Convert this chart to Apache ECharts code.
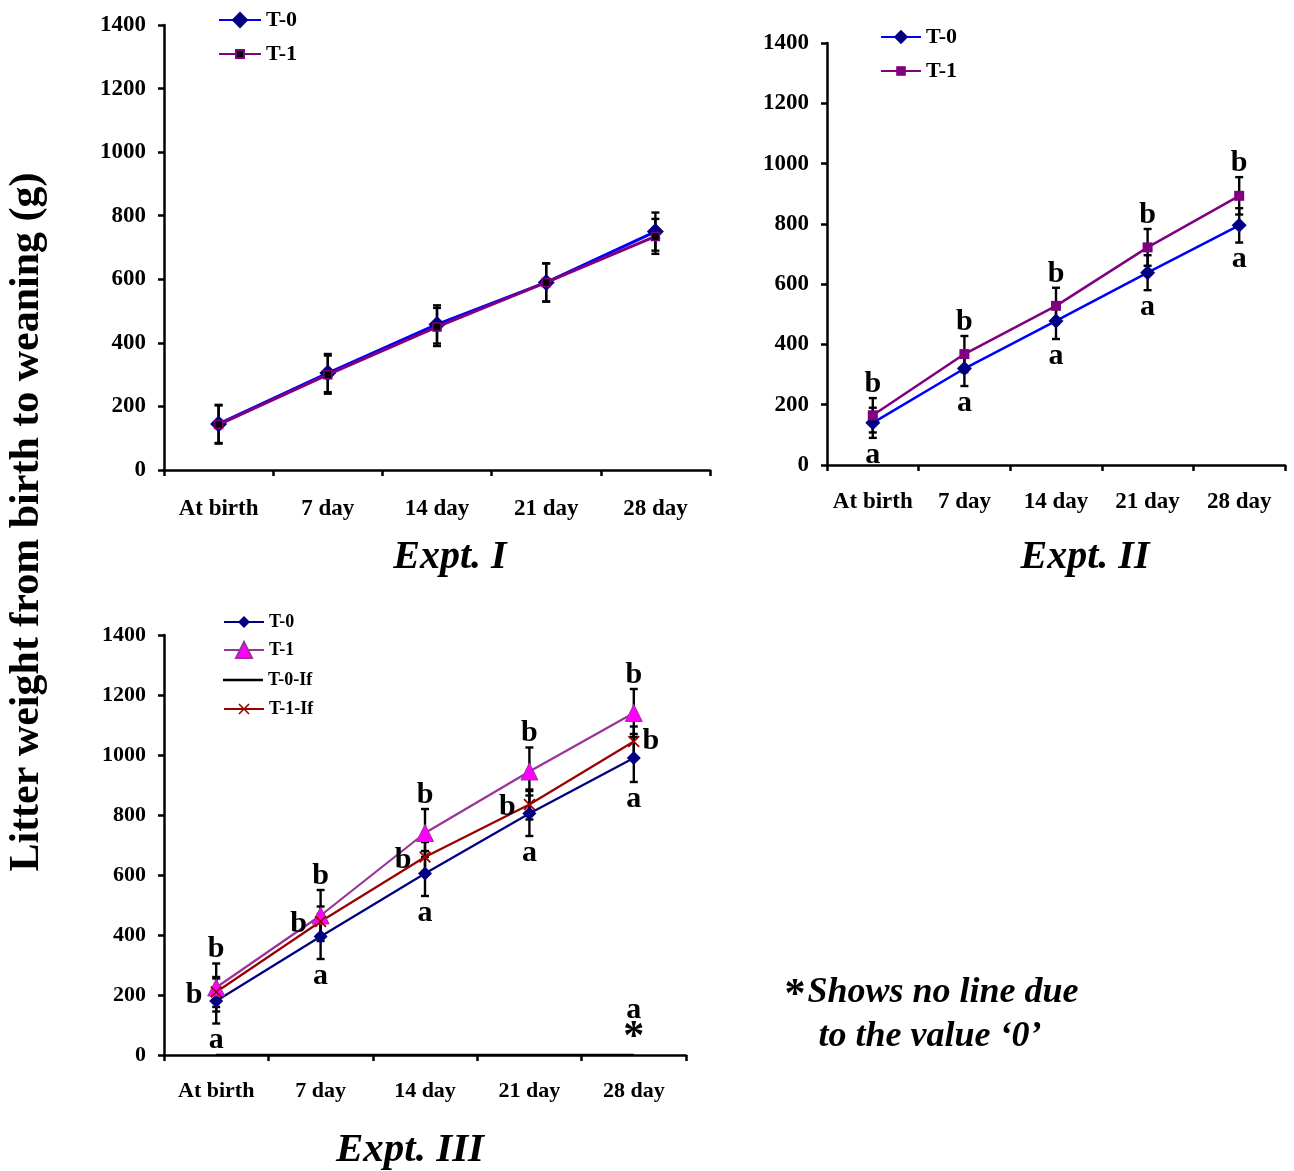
<!DOCTYPE html>
<html>
<head>
<meta charset="utf-8">
<title>Litter weight</title>
<script src="https://cdn.jsdelivr.net/npm/echarts@6/dist/echarts.min.js"></script>
<style>
  html, body { margin: 0; padding: 0; background: #fff; }
  .wrap { position: relative; width: 1294px; height: 1171px; }
  .layer { position: absolute; left: 0; top: 0; width: 1294px; height: 1171px; }
</style>
</head>
<body>
<div class="wrap">
  <div class="layer" id="expt1"></div>
  <div class="layer" id="expt2"></div>
  <div class="layer" id="expt3"></div>
</div>
<script>
var categories = ['At birth', '7 day', '14 day', '21 day', '28 day'];
var yMin = 0, yMax = 1400, yStep = 200;

// Expt. I
var e1T0 = [145, 305, 458, 590, 750];
var e1T0Err = [60, 60, 60, 60, 60];
var e1T1 = [143, 300, 450, 590, 735];
var e1T1Err = [60, 60, 60, 60, 55];

// Expt. II
var e2T0 = [140, 320, 478, 638, 795];
var e2T0Err = [50, 58, 60, 58, 57];
var e2T1 = [165, 368, 528, 722, 893];
var e2T1Err = [57, 60, 60, 61, 62];
var e2T0Letters = ['a', 'a', 'a', 'a', 'a'];
var e2T1Letters = ['b', 'b', 'b', 'b', 'b'];

// Expt. III
var e3T0 = [180, 395, 605, 805, 990];
var e3T0Err = [75, 75, 75, 75, 80];
var e3T1 = [225, 465, 740, 945, 1140];
var e3T1Err = [80, 85, 80, 80, 80];
var e3T0If = [0, 0, 0, 0, 0];
var e3T1If = [210, 445, 660, 835, 1045];
var e3T1IfErr = [50, 50, 50, 50, 50];
var e3T0Letters = ['a', 'a', 'a', 'a', 'a'];
var e3T1Letters = ['b', 'b', 'b', 'b', 'b'];
var e3T1IfLettersLeft = ['b', 'b', 'b', 'b', ''];
var e3T1IfLettersRight = ['', '', '', '', 'b'];
var e3T0IfLetters = ['', '', '', '', 'a'];
var e3T0IfStars = ['', '', '', '', '*'];

var FONT = '"Liberation Serif", "Times New Roman", serif';
var xSymbol = 'path://M0,1L1,0L5,4L9,0L10,1L6,5L10,9L9,10L5,6L1,10L0,9L4,5Z';
// plain line icon for the legend (thin bar in the middle of a 40x20 box)
var lineIcon = 'path://M0,0L40,0L40,0.01L0,0.01Z M0,8.8L40,8.8L40,11.2L0,11.2Z M0,19.99L40,19.99L40,20L0,20Z';

function xAxisOpt(fontSize, margin) {
  return {
    type: 'category',
    data: categories,
    boundaryGap: true,
    axisLine: { lineStyle: { color: '#000', width: 2.5 } },
    axisTick: { show: true, length: 6, lineStyle: { color: '#000', width: 2.5 } },
    axisLabel: { color: '#000', fontFamily: FONT, fontWeight: 'bold', fontSize: fontSize, margin: margin, interval: 0 },
    splitLine: { show: false }
  };
}

function yAxisOpt(fontSize) {
  return {
    type: 'value',
    min: yMin, max: yMax, interval: yStep,
    axisLine: { show: true, lineStyle: { color: '#000', width: 2.5 } },
    axisTick: { show: true, length: 6, lineStyle: { color: '#000', width: 2.5 } },
    axisLabel: { color: '#000', fontFamily: FONT, fontWeight: 'bold', fontSize: fontSize, margin: 18,
      formatter: function (v) { return String(v); } },
    splitLine: { show: false }
  };
}

// error bars drawn through the axis scale
function errBars(values, errs) {
  return {
    type: 'custom',
    silent: true,
    z: 1,
    data: values.map(function (v, i) { return [i, v, errs[i]]; }),
    renderItem: function (params, api) {
      var i = api.value(0), m = api.value(1), e = api.value(2);
      var hi = api.coord([i, m + e]);
      var lo = api.coord([i, m - e]);
      var w = 4;
      var st = { stroke: '#000', lineWidth: 2.4 };
      return {
        type: 'group',
        children: [
          { type: 'line', shape: { x1: hi[0], y1: hi[1], x2: lo[0], y2: lo[1] }, style: st },
          { type: 'line', shape: { x1: hi[0] - w, y1: hi[1], x2: hi[0] + w, y2: hi[1] }, style: st },
          { type: 'line', shape: { x1: lo[0] - w, y1: lo[1], x2: lo[0] + w, y2: lo[1] }, style: st }
        ]
      };
    }
  };
}

// significance letters: mode = above | below | left | right
function letters(values, errs, marks, mode, fontSize, extra) {
  return {
    type: 'custom',
    silent: true,
    z: 5,
    data: values.map(function (v, i) {
      var anchor = v;
      if (mode === 'above') anchor = v + errs[i];
      if (mode === 'below') anchor = v - errs[i];
      return [i, anchor];
    }),
    renderItem: function (params, api) {
      var idx = params.dataIndex;
      var p = api.coord([api.value(0), api.value(1)]);
      var txt = marks[idx];
      if (!txt) return null;
      var dx = 0, dy = 0, va = 'middle';
      if (mode === 'above') { dy = 1 - (extra || 0); va = 'bottom'; }
      if (mode === 'below') { dy = 2; va = 'top'; }
      if (mode === 'left') { dx = -22; dy = 3; }
      if (mode === 'right') { dx = 17; }
      return {
        type: 'text',
        x: p[0] + dx, y: p[1] + dy,
        style: {
          text: txt, fill: '#000', align: 'center', verticalAlign: va,
          font: 'bold ' + fontSize + 'px ' + FONT
        }
      };
    }
  };
}

// one legend per row so each row keeps its own marker size
function legendRow(left, centerY, name, fontSize, iw, ih, icon) {
  var h = Math.max(ih, fontSize);
  var item = { name: name };
  if (icon) { item.icon = icon; }
  return {
    orient: 'vertical', left: left, top: centerY - h / 2, padding: 0,
    data: [item], itemWidth: iw, itemHeight: ih,
    selectedMode: false,
    textStyle: { color: '#000', fontFamily: FONT, fontWeight: 'bold', fontSize: fontSize, lineHeight: fontSize }
  };
}

function titleText(x, y, text, size) {
  return {
    type: 'text', x: x, y: y,
    style: { text: text, fill: '#000', align: 'center', verticalAlign: 'middle',
      font: 'italic bold ' + size + 'px ' + FONT }
  };
}

// ---------- Expt. I ----------
var c1 = echarts.init(document.getElementById('expt1'));
c1.setOption({
  animation: false,
  grid: { left: 164, top: 25, width: 546, height: 445 },
  xAxis: xAxisOpt(23, 28),
  yAxis: yAxisOpt(23),
  legend: [
    legendRow(218, 20, 'T-0', 22, 42, 21),
    legendRow(218, 54, 'T-1', 22, 42, 10)
  ],
  graphic: [
    { type: 'text', x: 27, y: 522, rotation: Math.PI / 2,
      style: { text: 'Litter weight from birth to weaning (g)', fill: '#000', align: 'center', verticalAlign: 'middle',
        font: 'bold 42px ' + FONT } },
    titleText(450, 558, 'Expt. I', 40)
  ],
  series: [
    errBars(e1T0, e1T0Err),
    errBars(e1T1, e1T1Err),
    { name: 'T-0', type: 'line', data: e1T0, z: 3, symbol: 'diamond', symbolSize: 17,
      lineStyle: { color: '#0000ff', width: 3 }, itemStyle: { color: '#000080' } },
    { name: 'T-1', type: 'line', data: e1T1, z: 4, symbol: 'rect', symbolSize: 8,
      lineStyle: { color: '#800080', width: 3 }, itemStyle: { color: '#000', borderColor: '#800080', borderWidth: 1.5 } }
  ]
});

// ---------- Expt. II ----------
var c2 = echarts.init(document.getElementById('expt2'));
c2.setOption({
  animation: false,
  grid: { left: 827, top: 43, width: 458, height: 422 },
  xAxis: xAxisOpt(23, 26),
  yAxis: yAxisOpt(23),
  legend: [
    legendRow(880, 37, 'T-0', 22, 40, 18),
    legendRow(880, 71, 'T-1', 22, 40, 12)
  ],
  graphic: [titleText(1085, 558, 'Expt. II', 40)],
  series: [
    errBars(e2T0, e2T0Err),
    errBars(e2T1, e2T1Err),
    { name: 'T-0', type: 'line', data: e2T0, z: 3, symbol: 'diamond', symbolSize: 15,
      lineStyle: { color: '#0000ff', width: 2.5 }, itemStyle: { color: '#000080' } },
    { name: 'T-1', type: 'line', data: e2T1, z: 4, symbol: 'rect', symbolSize: 10,
      lineStyle: { color: '#800080', width: 2.5 }, itemStyle: { color: '#800080' } },
    letters(e2T1, e2T1Err, e2T1Letters, 'above', 30),
    letters(e2T0, e2T0Err, e2T0Letters, 'below', 30)
  ]
});

// ---------- Expt. III ----------
var c3 = echarts.init(document.getElementById('expt3'));
c3.setOption({
  animation: false,
  grid: { left: 164, top: 635, width: 522, height: 420 },
  xAxis: xAxisOpt(22, 25),
  yAxis: yAxisOpt(22),
  legend: [
    legendRow(223, 622, 'T-0', 18, 40, 15),
    legendRow(223, 651, 'T-1', 18, 40, 20),
    legendRow(223, 680, 'T-0-If', 18, 40, 20, lineIcon),
    legendRow(223, 709, 'T-1-If', 18, 40, 14)
  ],
  graphic: [
    titleText(410, 1150, 'Expt. III', 41),
    { type: 'text', x: 795, y: 996,
      style: { text: '*', fill: '#000', align: 'center', verticalAlign: 'middle', font: 'bold 42px ' + FONT } },
    titleText(943, 993, 'Shows no line due', 36),
    titleText(930, 1037, 'to the value \u20180\u2019', 36)
  ],
  series: [
    errBars(e3T0, e3T0Err),
    errBars(e3T1, e3T1Err),
    errBars(e3T1If, e3T1IfErr),
    { name: 'T-0', type: 'line', data: e3T0, z: 3, symbol: 'diamond', symbolSize: 14,
      lineStyle: { color: '#000080', width: 2.2 }, itemStyle: { color: '#000080' } },
    { name: 'T-1', type: 'line', data: e3T1, z: 4, symbol: 'triangle', symbolSize: 17,
      lineStyle: { color: '#993399', width: 2.2 }, itemStyle: { color: '#ff00ff', borderColor: '#993399', borderWidth: 1 } },
    { name: 'T-0-If', type: 'line', data: e3T0If, z: 3, symbol: 'none',
      lineStyle: { color: '#000', width: 2.5 }, itemStyle: { color: '#000' } },
    { name: 'T-1-If', type: 'line', data: e3T1If, z: 4, symbol: xSymbol, symbolSize: 12,
      lineStyle: { color: '#990000', width: 2.2 }, itemStyle: { color: '#990000' } },
    letters(e3T1, e3T1Err, e3T1Letters, 'above', 30),
    letters(e3T0, e3T0Err, e3T0Letters, 'below', 30),
    letters(e3T1If, e3T1IfErr, e3T1IfLettersLeft, 'left', 30),
    letters(e3T1If, e3T1IfErr, e3T1IfLettersRight, 'right', 30),
    letters(e3T0If, e3T0If, e3T0IfLetters, 'above', 30, 31),
    letters(e3T0If, e3T0If, e3T0IfStars, 'above', 42, -3)
  ]
});
</script>
</body>
</html>
